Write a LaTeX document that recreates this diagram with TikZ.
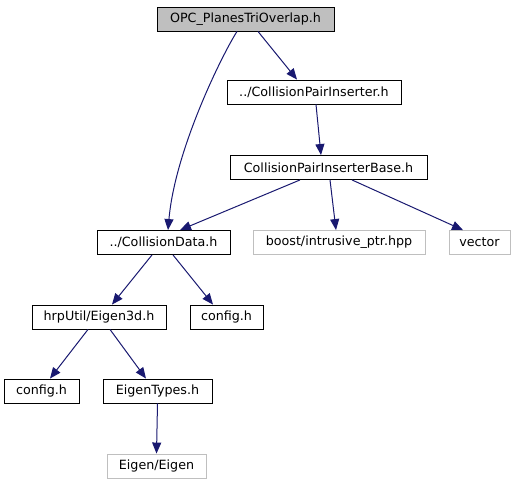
\documentclass[tikz,border=0pt]{standalone}
\usepackage{fontspec}
\setmainfont{DejaVu Sans}
\usetikzlibrary{arrows.meta,calc}
\definecolor{edgeblue}{HTML}{191970}
\definecolor{rootgray}{HTML}{BFBFBF}
\definecolor{extgray}{HTML}{BFBFBF}
\begin{document}
\begin{tikzpicture}[x=1pt,y=-1pt,
  box/.style={draw=black,line width=0.9pt,fill=white,inner sep=0pt,minimum height=24pt,font=\fontsize{12.7}{14}\selectfont},
  rootbox/.style={box,fill=rootgray},
  extbox/.style={box,draw=extgray},
  dep/.style={draw=edgeblue,line width=1pt,-{Triangle[length=11pt,width=9pt,fill=edgeblue]}}]
\useasboundingbox (0,0) rectangle (517,485);
\node[rootbox,minimum width=177pt] (opc) at (245.5,19) {OPC\_PlanesTriOverlap.h};
\node[box,minimum width=174pt] (cpi) at (314,92) {../CollisionPairInserter.h};
\node[box,minimum width=197pt] (cpib) at (328.5,167.5) {CollisionPairInserterBase.h};
\node[box,minimum width=133pt] (cd) at (163.5,242.5) {../CollisionData.h};
\node[extbox,minimum width=172pt] (boost) at (339,242.5) {boost/intrusive\_ptr.hpp};
\node[extbox,minimum width=61pt] (vec) at (479.5,242.5) {vector};
\node[box,minimum width=134pt] (hrp) at (99,317) {hrpUtil/Eigen3d.h};
\node[box,minimum width=73pt] (cfgR) at (226.5,317) {config.h};
\node[box,minimum width=75pt] (cfgL) at (41.5,391) {config.h};
\node[box,minimum width=109pt] (et) at (157.5,391) {EigenTypes.h};
\node[extbox,minimum width=99pt] (eig) at (156.5,466) {Eigen/Eigen};
\draw[dep] ($(opc.south)+(12.5,0)$) -- ($(cpi.north)+(-17,0)$);
\draw[dep] ($(opc.south)+(-8.5,0)$) .. controls (222,55) and (175,150) .. ($(cd.north)+(4.5,0)$);
\draw[dep] ($(cpi.south)+(2,0)$) -- ($(cpib.north)+(-7.5,0)$);
\draw[dep] ($(cpib.south)+(-28.5,0)$) -- ($(cd.north)+(16.5,0)$);
\draw[dep] ($(cpib.south)+(1.5,0)$) -- ($(boost.north)+(-3,0)$);
\draw[dep] ($(cpib.south)+(23.5,0)$) -- ($(vec.north)+(-16.5,0)$);
\draw[dep] ($(cd.south)+(-11.5,0)$) -- ($(hrp.north)+(13,0)$);
\draw[dep] ($(cd.south)+(9.5,0)$) -- ($(cfgR.north)+(-13.5,0)$);
\draw[dep] ($(hrp.south)+(-11,0)$) -- ($(cfgL.north)+(8.5,0)$);
\draw[dep] ($(hrp.south)+(11,0)$) -- ($(et.north)+(-11.5,0)$);
\draw[dep] (et.south) -- (eig.north);
\end{tikzpicture}
\end{document}
